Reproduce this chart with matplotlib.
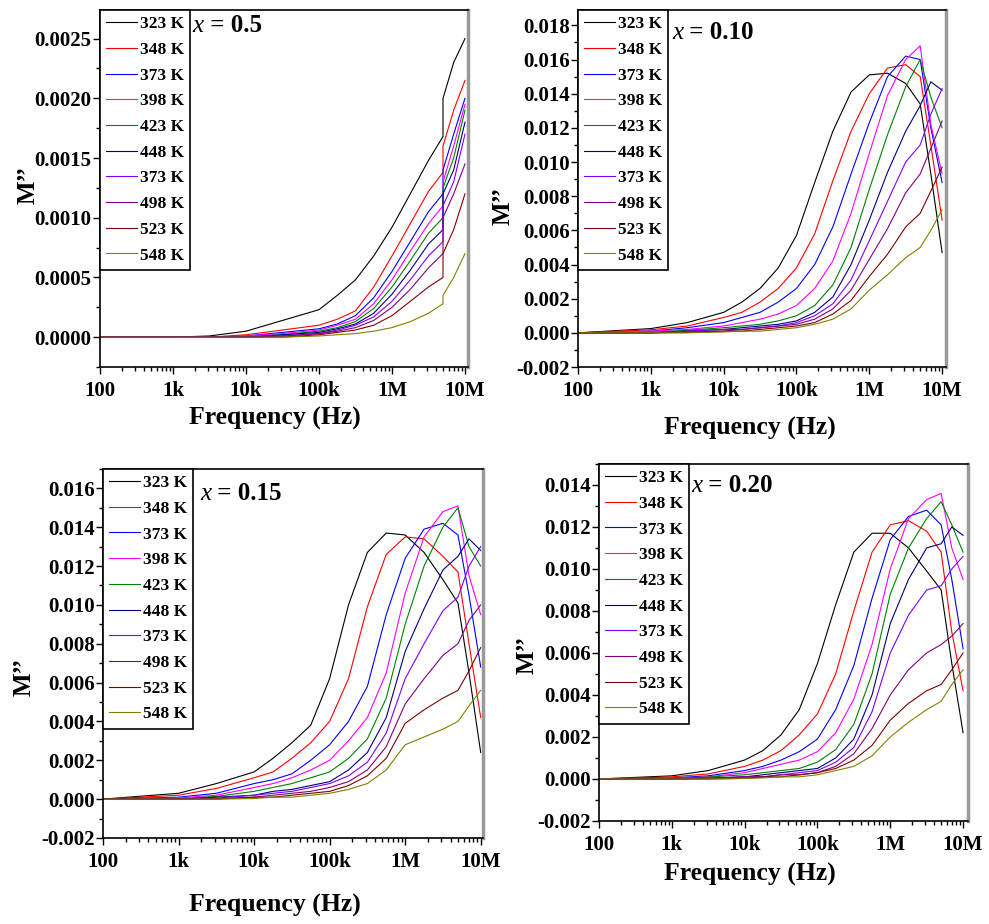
import matplotlib
matplotlib.use('Agg')
import matplotlib.pyplot as plt
from matplotlib.ticker import FixedLocator, FixedFormatter, LogLocator, MultipleLocator, FuncFormatter, NullFormatter

plt.rcParams['font.family'] = ['Liberation Serif', 'DejaVu Serif']
plt.rcParams['font.weight'] = 'bold'

temps = ['323 K', '348 K', '373 K', '398 K', '423 K', '448 K', '373 K', '498 K', '523 K', '548 K']
colors = ['#000000', '#ff0000', '#0000ff', '#ff00ff', '#008000',
          '#000080', '#8000ff', '#800080', '#800000', '#808000']

# x = 0.5 panel has a step at 5 MHz, so 5e6 appears twice
freq_05 = [1e2, 1e3, 3.16e3, 1e4, 3.16e4, 1e5, 1.78e5, 3.16e5, 5.62e5,
           1e6, 1.78e6, 3.16e6, 5e6, 5e6, 7e6, 1e7]
freq = [1e2, 1e3, 3.16e3, 1e4, 1.78e4, 3.16e4, 5.62e4, 1e5, 1.78e5,
        3.16e5, 5.62e5, 1e6, 1.78e6, 3.16e6, 5e6, 7e6, 1e7]

m_05 = [
    [0, 0, 0.00001, 0.00005, 0.00014, 0.00023, 0.00035, 0.00048, 0.00068, 0.00092, 0.0012, 0.00148, 0.00168, 0.0020, 0.0023, 0.0025],
    [0, 0, 0, 0.00002, 0.00006, 0.0001, 0.00015, 0.00022, 0.00042, 0.00068, 0.00095, 0.00122, 0.00138, 0.0016, 0.0019, 0.00215],
    [0, 0, 0, 0.00001, 0.00004, 0.00007, 0.00011, 0.00018, 0.00033, 0.00055, 0.0008, 0.00105, 0.0012, 0.0014, 0.0017, 0.0020],
    [0, 0, 0, 0.00001, 0.00003, 0.00006, 0.0001, 0.00015, 0.00028, 0.00048, 0.00072, 0.00095, 0.0011, 0.0013, 0.0016, 0.00195],
    [0, 0, 0, 0, 0.00002, 0.00005, 0.00008, 0.00013, 0.00024, 0.00042, 0.00064, 0.00087, 0.0010, 0.00125, 0.0015, 0.0019],
    [0, 0, 0, 0, 0.00002, 0.00004, 0.00007, 0.00011, 0.0002, 0.00036, 0.00056, 0.00078, 0.0009, 0.0012, 0.0014, 0.0018],
    [0, 0, 0, 0, 0.00001, 0.00003, 0.00006, 0.0001, 0.00017, 0.0003, 0.00048, 0.00068, 0.0008, 0.0011, 0.0013, 0.0017],
    [0, 0, 0, 0, 0.00001, 0.00003, 0.00005, 0.00008, 0.00014, 0.00025, 0.0004, 0.00058, 0.0007, 0.0010, 0.0012, 0.00145],
    [0, 0, 0, 0, 0, 0.00002, 0.00004, 0.00006, 0.0001, 0.00018, 0.0003, 0.00042, 0.0005, 0.0007, 0.0009, 0.0012],
    [0, 0, 0, 0, 0, 0.00001, 0.00002, 0.00003, 0.00005, 0.00008, 0.00013, 0.0002, 0.00028, 0.00035, 0.0005, 0.0007],
]

m_010 = [
    [0, 0.00025, 0.0006, 0.0012, 0.0018, 0.0026, 0.0038, 0.0057, 0.0088, 0.0118, 0.0141, 0.0151, 0.0152, 0.0146, 0.0134, 0.0093, 0.0047],
    [0, 0.00018, 0.0004, 0.0009, 0.0012, 0.0018, 0.0026, 0.0038, 0.0058, 0.0089, 0.0118, 0.0140, 0.0155, 0.0157, 0.0150, 0.0110, 0.0066],
    [0, 0.0001, 0.0003, 0.0006, 0.0009, 0.0012, 0.0018, 0.0026, 0.0040, 0.0062, 0.0093, 0.0123, 0.0150, 0.0162, 0.0160, 0.0120, 0.0088],
    [0, 0.0001, 0.0002, 0.0004, 0.0006, 0.0008, 0.0011, 0.0016, 0.0026, 0.0042, 0.0070, 0.0105, 0.0139, 0.0160, 0.0168, 0.0122, 0.0093],
    [0, 0.00003, 0.00015, 0.0003, 0.0004, 0.0005, 0.0007, 0.0010, 0.0016, 0.0028, 0.0050, 0.0084, 0.0116, 0.0144, 0.0160, 0.0138, 0.0120],
    [0, 0, 0.0001, 0.0002, 0.0003, 0.0004, 0.0005, 0.0007, 0.0012, 0.0021, 0.0040, 0.0066, 0.0094, 0.0118, 0.0133, 0.0147, 0.0142],
    [0, 0, 0.0001, 0.0002, 0.0002, 0.0003, 0.0004, 0.0006, 0.0010, 0.0017, 0.0031, 0.0054, 0.0077, 0.0100, 0.0110, 0.0128, 0.0143],
    [0, 0, 0.00005, 0.0001, 0.0002, 0.0003, 0.0004, 0.0005, 0.0008, 0.0014, 0.0025, 0.0043, 0.0061, 0.0082, 0.0093, 0.0108, 0.0124],
    [0, 0, 0.00002, 0.0001, 0.0001, 0.0002, 0.0003, 0.0004, 0.0006, 0.0011, 0.0019, 0.0033, 0.0046, 0.0062, 0.0070, 0.0083, 0.0097],
    [0, 0, 0, 0.00005, 0.0001, 0.0001, 0.0002, 0.0003, 0.0005, 0.0008, 0.0014, 0.0025, 0.0034, 0.0044, 0.0050, 0.0060, 0.0072],
]

m_015 = [
    [0, 0.0003, 0.0008, 0.0014, 0.0021, 0.0029, 0.0038, 0.0062, 0.0100, 0.0127, 0.0137, 0.0136, 0.0127, 0.0113, 0.0101, 0.0065, 0.0024],
    [0, 0.0002, 0.00055, 0.0011, 0.0014, 0.0021, 0.0029, 0.0040, 0.0062, 0.0099, 0.0126, 0.0135, 0.0134, 0.0125, 0.0117, 0.0080, 0.0042],
    [0, 0.0001, 0.0003, 0.0008, 0.0010, 0.0013, 0.0020, 0.0028, 0.0040, 0.0058, 0.0095, 0.0124, 0.0139, 0.0142, 0.0136, 0.0105, 0.0068],
    [0, 0.00006, 0.0002, 0.0006, 0.0008, 0.0011, 0.0015, 0.0020, 0.0030, 0.0042, 0.0065, 0.0106, 0.0135, 0.0148, 0.0151, 0.0115, 0.0095],
    [0, 0.00001, 0.00014, 0.0004, 0.0006, 0.0008, 0.0011, 0.0014, 0.0021, 0.0031, 0.0052, 0.0090, 0.0120, 0.0140, 0.0150, 0.0130, 0.0120],
    [0, 0, 0.0001, 0.0002, 0.0004, 0.0005, 0.0007, 0.0009, 0.0015, 0.0024, 0.0042, 0.0076, 0.0098, 0.0118, 0.0125, 0.0134, 0.0128],
    [0, 0, 0.00005, 0.0002, 0.0003, 0.0004, 0.0006, 0.0008, 0.0012, 0.0019, 0.0034, 0.0062, 0.0080, 0.0097, 0.0104, 0.0120, 0.0130],
    [0, 0, 0.00002, 0.0001, 0.0002, 0.0003, 0.0004, 0.0006, 0.0009, 0.0015, 0.0027, 0.0049, 0.0062, 0.0074, 0.0080, 0.0092, 0.0100],
    [0, 0, 0, 0.0001, 0.0001, 0.0002, 0.0003, 0.0004, 0.0007, 0.0012, 0.0021, 0.0039, 0.0046, 0.0052, 0.0056, 0.0066, 0.0078],
    [0, 0, 0, 0.00003, 0.0001, 0.0001, 0.0002, 0.0003, 0.0005, 0.0008, 0.0015, 0.0028, 0.0032, 0.0036, 0.0040, 0.0048, 0.0056],
]

m_020 = [
    [0, 0.00015, 0.0004, 0.0009, 0.00135, 0.0021, 0.0033, 0.0055, 0.0083, 0.0108, 0.0117, 0.0117, 0.0110, 0.0099, 0.0090, 0.0055, 0.0022],
    [0, 0.0001, 0.00024, 0.0006, 0.0009, 0.00135, 0.0021, 0.0031, 0.0050, 0.0080, 0.0108, 0.0121, 0.0123, 0.0118, 0.0108, 0.0070, 0.0042],
    [0, 0.00005, 0.00015, 0.0004, 0.0006, 0.0009, 0.0013, 0.0019, 0.0033, 0.0054, 0.0086, 0.0114, 0.0125, 0.0128, 0.0121, 0.0095, 0.0062],
    [0, 0.00003, 0.0001, 0.0003, 0.0005, 0.0007, 0.0009, 0.0013, 0.0022, 0.0038, 0.0064, 0.0100, 0.0124, 0.0133, 0.0136, 0.0110, 0.0095],
    [0, 0.00002, 0.00009, 0.0002, 0.0003, 0.0004, 0.0005, 0.0008, 0.0014, 0.0026, 0.0050, 0.0088, 0.0110, 0.0124, 0.0132, 0.0121, 0.0108],
    [0, 0, 0.00004, 0.0001, 0.0002, 0.0003, 0.0004, 0.0005, 0.0010, 0.0019, 0.0040, 0.0074, 0.0095, 0.0110, 0.0112, 0.0120, 0.0116],
    [0, 0, 0.00003, 0.0001, 0.0001, 0.0002, 0.0003, 0.0004, 0.0008, 0.0015, 0.0032, 0.0060, 0.0078, 0.0090, 0.0092, 0.0100, 0.0106],
    [0, 0, 0.00002, 0.0001, 0.0001, 0.0002, 0.0002, 0.0003, 0.0006, 0.0012, 0.0024, 0.0040, 0.0052, 0.0060, 0.0064, 0.0068, 0.0074],
    [0, 0, 0, 0.00003, 0.0001, 0.0001, 0.0002, 0.0003, 0.0005, 0.0009, 0.0016, 0.0028, 0.0036, 0.0042, 0.0045, 0.0052, 0.0060],
    [0, 0, 0, 0.00002, 0.00005, 0.0001, 0.0001, 0.0002, 0.0004, 0.0006, 0.0011, 0.0020, 0.0027, 0.0033, 0.0037, 0.0045, 0.0052],
]

x_ticks = [1e2, 1e3, 1e4, 1e5, 1e6, 1e7]
x_tick_labels = ['100', '1k', '10k', '100k', '1M', '10M']


def draw_panel(fig, rect, freqs, curves, comp, ylim, ymaj, ymin, ndec, xmax,
               ylab_xy, xlab_xy, note_xy):
    ax = fig.add_axes(rect)
    for vals, c, lab in zip(curves, colors, temps):
        ax.plot(freqs, vals, color=c, lw=0.8, label=lab)

    ax.set_xscale('log')
    ax.set_xlim(100, xmax)
    ax.set_ylim(*ylim)

    ax.xaxis.set_major_locator(FixedLocator(x_ticks))
    ax.xaxis.set_major_formatter(FixedFormatter(x_tick_labels))
    ax.xaxis.set_minor_locator(LogLocator(base=10, subs=range(2, 10), numticks=50))
    ax.xaxis.set_minor_formatter(NullFormatter())
    ax.yaxis.set_major_locator(MultipleLocator(ymaj))
    ax.yaxis.set_minor_locator(MultipleLocator(ymin))
    ax.yaxis.set_major_formatter(FuncFormatter(lambda v, p: f'{v:.{ndec}f}'))

    ax.tick_params(which='both', direction='out', top=False, right=False, width=1)
    ax.tick_params(which='major', length=5, labelsize=15)
    ax.tick_params(which='minor', length=3)
    ax.tick_params(axis='x', pad=5)
    ax.tick_params(axis='y', pad=1)

    for s in ['left', 'bottom', 'top']:
        ax.spines[s].set_linewidth(1.2)
    ax.spines['right'].set_color('#999999')
    ax.spines['right'].set_linewidth(2.5)

    ax.set_ylabel('M\u2019\u2019', fontsize=18, fontweight='bold')
    ax.yaxis.label.set_va('center')
    ax.yaxis.set_label_coords(*ylab_xy)
    ax.set_xlabel('Frequency (Hz)', fontsize=18.5, fontweight='bold')
    ax.xaxis.label.set_va('center')
    ax.xaxis.set_label_coords(*xlab_xy)

    leg = ax.legend(loc='upper left', bbox_to_anchor=(0, 1), borderaxespad=0,
                    fancybox=False, framealpha=1, edgecolor='black',
                    prop={'size': 12.5, 'weight': 'bold'}, handlelength=1.8,
                    handletextpad=0.15, labelspacing=0.55, borderpad=0.35)
    leg.get_frame().set_linewidth(1.2)

    # composition note: italic x followed by bold "= value"
    t = ax.text(note_xy[0], note_xy[1], 'x', transform=ax.transAxes,
                fontsize=18, style='italic', fontweight='normal',
                ha='left', va='center', zorder=10)
    ax.annotate(' = ' + comp, xy=(1, 0), xycoords=t, ha='left', va='bottom',
                fontsize=18, fontweight='bold', zorder=10)
    return ax


fig = plt.figure(figsize=(9.89, 9.24), dpi=100)

draw_panel(fig, [0.1011, 0.6028, 0.3721, 0.3864], freq_05, m_05, '0.5',
           (-0.00025, 0.00274), 0.0005, 0.00025, 4, 1.1e7,
           (-0.196, 0.51), (0.476, -0.143), (0.252, 0.955))
draw_panel(fig, [0.5844, 0.6028, 0.3721, 0.3864], freq, m_010, '0.10',
           (-0.002, 0.0189), 0.002, 0.001, 3, 1.13e7,
           (-0.204, 0.45), (0.467, -0.171), (0.255, 0.935))
draw_panel(fig, [0.1041, 0.0931, 0.3842, 0.3994], freq, m_015, '0.15',
           (-0.002, 0.0170), 0.002, 0.001, 3, 1.07e7,
           (-0.208, 0.436), (0.453, -0.182), (0.255, 0.932))
draw_panel(fig, [0.6057, 0.1115, 0.3731, 0.3864], freq, m_020, '0.20',
           (-0.002, 0.0150), 0.002, 0.001, 3, 1.17e7,
           (-0.195, 0.465), (0.41, -0.151), (0.25, 0.938))

fig.savefig('out.png', dpi=100, facecolor='white')
